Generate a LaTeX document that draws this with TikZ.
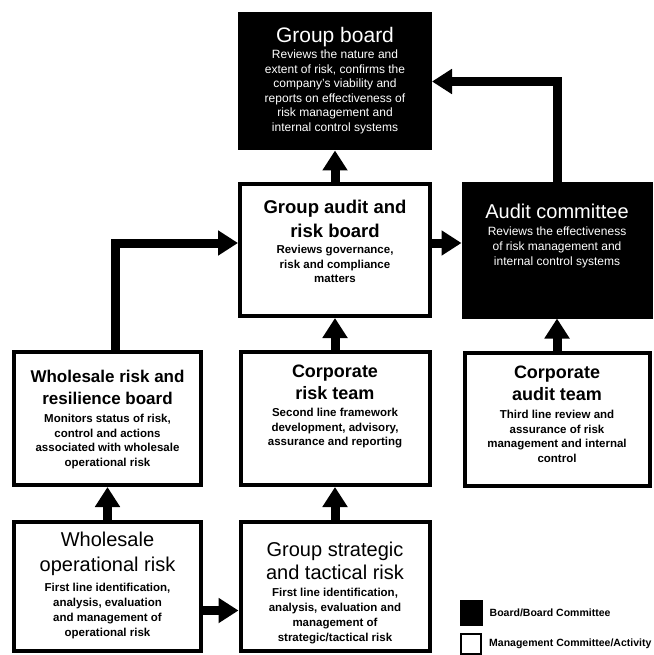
\documentclass[tikz,border=0pt]{standalone}
\usepackage{fontspec}
\setmainfont{Liberation Sans}
\usetikzlibrary{arrows.meta,positioning}
\definecolor{boardfill}{HTML}{000000}
\definecolor{mgmtfill}{HTML}{FFFFFF}
\tikzset{
  boardbox/.style={fill=boardfill,draw=boardfill,line width=1pt,inner sep=0pt},
  mgmtbox/.style={fill=mgmtfill,draw=black,line width=4pt,inner sep=0pt},
  boardtitle/.style={anchor=north,align=center,inner sep=0pt,text=white,font=\fontsize{21}{24}\selectfont},
  boardtext/.style={anchor=north,align=center,inner sep=0pt,text=white,font=\fontsize{12}{14.5}\selectfont},
  mgmttitle/.style={anchor=north,align=center,inner sep=0pt,font=\bfseries\fontsize{18}{22}\selectfont},
  risktitle/.style={anchor=north,align=center,inner sep=0pt,font=\fontsize{20}{25}\selectfont},
  mgmttext/.style={anchor=north,align=center,inner sep=0pt,font=\bfseries\fontsize{11.5}{14.5}\selectfont},
  flow/.style={line width=9pt,-{Triangle[length=20pt,width=24pt]}},
  legendtext/.style={anchor=west,inner sep=0pt,font=\bfseries\fontsize{10.5}{12}\selectfont}
}

\begin{document}
\begin{tikzpicture}[x=1pt,y=1pt]
  \def\colA{107.5}
  \def\colB{335}
  \def\colC{557}
  \useasboundingbox[fill=white] (0,0) rectangle (653,-655);

  % boxes
  \node[boardbox,minimum width=193pt,minimum height=137pt] (gb) at (\colB,-81.5) {};
  \node[mgmtbox,minimum width=190pt,minimum height=132pt] (gab) at (\colB,-250) {};
  \node[boardbox,minimum width=190pt,minimum height=136pt] (ac) at (\colC,-250) {};
  \node[mgmtbox,minimum width=187pt,minimum height=133pt] (wrb) at (\colA,-418.5) {};
  \node[mgmtbox,minimum width=189pt,minimum height=133pt] (crt) at (\colB,-418.5) {};
  \node[mgmtbox,minimum width=185pt,minimum height=133pt] (cat) at (\colC,-419.5) {};
  \node[mgmtbox,minimum width=187pt,minimum height=129pt] (wor) at (\colA,-586.5) {};
  \node[mgmtbox,minimum width=189pt,minimum height=129pt] (gstr) at (\colB,-586.5) {};

  % texts
  \node[boardtitle] (gb-title) at (\colB,-27) {Group board};
  \node[boardtext] (gb-text) at (\colB,-50)
    {Reviews the nature and\\extent of risk, confirms the\\company's viability and\\reports on effectiveness of\\risk management and\\internal control systems};
  \node[mgmttitle,font=\bfseries\fontsize{18.5}{24}\selectfont] (gab-title) at (\colB,-200)
    {Group audit and\\risk board};
  \node[mgmttext] (gab-text) at (\colB,-245) {Reviews governance,\\risk and compliance\\matters};
  \node[boardtitle,font=\fontsize{20}{24}\selectfont] (ac-title) at (\colC,-204) {Audit committee};
  \node[boardtext,font=\fontsize{12}{15}\selectfont] (ac-text) at (\colC,-227)
    {Reviews the effectiveness\\of risk management and\\internal control systems};
  \node[mgmttitle,font=\bfseries\fontsize{17}{22}\selectfont] (wrb-title) at (\colA,-370)
    {Wholesale risk and\\resilience board};
  \node[mgmttext] (wrb-text) at (\colA,-414)
    {Monitors status of risk,\\control and actions\\associated with wholesale\\operational risk};
  \node[mgmttitle] (crt-title) at (\colB,-365) {Corporate\\risk team};
  \node[mgmttext] (crt-text) at (\colB,-408)
    {Second line framework\\development, advisory,\\assurance and reporting};
  \node[mgmttitle] (cat-title) at (\colC,-366) {Corporate\\audit team};
  \node[mgmttext] (cat-text) at (\colC,-410)
    {Third line review and\\assurance of risk\\management and internal\\control};
  \node[risktitle] (wor-title) at (\colA,-532) {Wholesale\\operational risk};
  \node[mgmttext,font=\bfseries\fontsize{11.5}{15}\selectfont] (wor-text) at (\colA,-583)
    {First line identification,\\analysis, evaluation\\and management of\\operational risk};
  \node[risktitle,font=\fontsize{20}{23}\selectfont] (gstr-title) at (\colB,-542)
    {Group strategic\\and tactical risk};
  \node[mgmttext,font=\bfseries\fontsize{11.5}{15}\selectfont] (gstr-text) at (\colB,-588)
    {First line identification,\\analysis, evaluation and\\management of\\strategic/tactical risk};

  % arrows
  \draw[flow] (gab.north) -- (gb.south);
  \draw[flow] ([yshift=7pt]gab.east) -- ([yshift=7pt]ac.west);
  \draw[flow] (ac.north) |- (gb.east);
  \draw[flow] ([xshift=7.5pt]wrb.north) |- ([yshift=7pt]gab.west);
  \draw[flow] (crt.north) -- (gab.south);
  \draw[flow] (cat.north) -- (ac.south);
  \draw[flow] (wor.north) -- (wrb.south);
  \draw[flow] (gstr.north) -- (crt.south);
  \draw[flow] ([yshift=-24pt]wor.east) -- ([yshift=-24pt]gstr.west);

  % legend
  \node[boardbox,minimum width=22pt,minimum height=25pt] (legboard) at (471,-612.5) {};
  \node[mgmtbox,line width=2pt,minimum width=20pt,minimum height=20pt] (legmgmt) at (471,-644) {};
  \node[legendtext,right=7pt of legboard] (legboard-txt) {Board/Board Committee};
  \node[legendtext,right=7pt of legmgmt] (legmgmt-txt) {Management Committee/Activity};
\end{tikzpicture}
\end{document}
